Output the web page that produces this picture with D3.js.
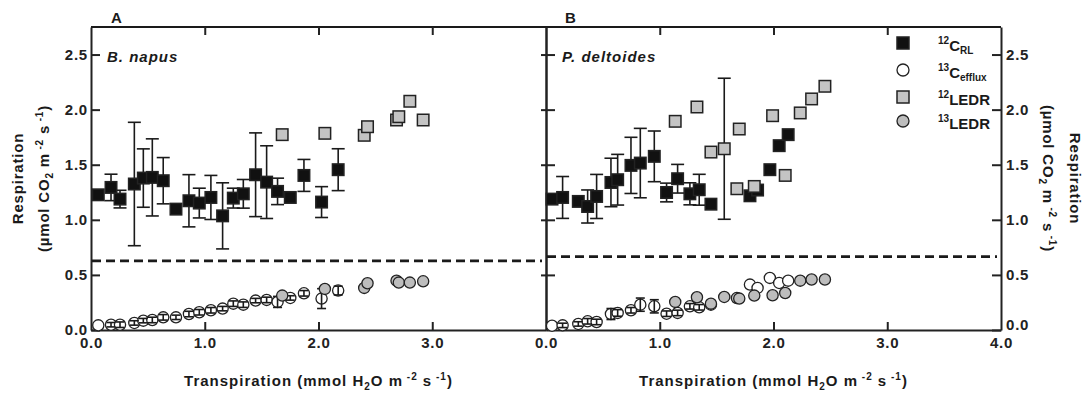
<!DOCTYPE html>
<html>
<head>
<meta charset="utf-8">
<script src="https://cdn.jsdelivr.net/npm/d3@7/dist/d3.min.js"></script>
<style>
  html, body { margin: 0; padding: 0; background: #fff; }
  svg { display: block; font-family: Arial, "Liberation Sans", Helvetica, sans-serif; }
  .tick text { font-size: 15px; font-weight: bold; fill: #222; letter-spacing: 0.8px; }
  .axis path, .axis line { stroke: #222; stroke-width: 2px; }
</style>
</head>
<body>
<svg id="chart" width="1089" height="398"></svg>
<script>
// ---- Panel A: B. napus ----
const napusX = [0.064, 0.176, 0.255, 0.381, 0.46, 0.539, 0.635, 0.747, 0.861, 0.952, 1.054,
                1.157, 1.251, 1.339, 1.447, 1.544, 1.64, 1.752, 1.872, 2.027, 2.173];
const napusRL = [1.227, 1.294, 1.188, 1.325, 1.379, 1.385, 1.355, 1.097, 1.173, 1.152, 1.203,
                 1.036, 1.197, 1.236, 1.409, 1.342, 1.258, 1.203, 1.403, 1.161, 1.455];
const napusRLErr = [0, 0.12, 0.08, 0.56, 0.265, 0.35, 0.21, 0, 0.237, 0.135, 0.2,
                    0.3, 0.09, 0.13, 0.38, 0.33, 0.12, 0, 0.145, 0.14, 0.19];
const napusEfflux = [0.042, 0.048, 0.048, 0.064, 0.085, 0.091, 0.115, 0.115, 0.145, 0.161, 0.179,
                     0.194, 0.239, 0.23, 0.267, 0.273, 0.255, 0.291, 0.333, 0.285, 0.358];
const napusEffluxErr = [0, 0.02, 0.025, 0.02, 0.02, 0.025, 0.025, 0.02, 0.025, 0.025, 0.025,
                        0.02, 0.025, 0.025, 0.02, 0.025, 0.05, 0.02, 0.025, 0.09, 0.04];
const napusLedrX = [1.681, 2.056, 2.402, 2.431, 2.686, 2.706, 2.803, 2.92];
const napusLedr12 = [1.773, 1.785, 1.767, 1.845, 1.906, 1.936, 2.076, 1.906];
const napusLedr13 = [0.312, 0.373, 0.382, 0.424, 0.448, 0.43, 0.43, 0.442];
const napusThreshold = 0.627;

// ---- Panel B: P. deltoides ----
const deltX = [0.053, 0.146, 0.284, 0.366, 0.445, 0.571, 0.63, 0.747, 0.829, 0.952, 1.06,
               1.157, 1.265, 1.347, 1.45, 1.793, 1.86, 1.968, 2.05, 2.129];
const deltRL = [1.188, 1.203, 1.167, 1.121, 1.212, 1.339, 1.364, 1.494, 1.515, 1.576, 1.248,
                1.373, 1.236, 1.273, 1.142, 1.218, 1.27, 1.455, 1.673, 1.773];
const deltRLErr = [0, 0.19, 0, 0.15, 0.2, 0.22, 0.23, 0.255, 0.315, 0.23, 0.085,
                   0.13, 0.1, 0.14, 0, 0, 0, 0, 0, 0];
const deltEfflux = [0.039, 0.042, 0.055, 0.079, 0.073, 0.145, 0.155, 0.179, 0.23, 0.215, 0.148,
                    0.155, 0.215, 0.206, 0.23, 0.412, 0.382, 0.473, 0.427, 0.448];
const deltEffluxErr = [0, 0.02, 0.02, 0.025, 0.025, 0.05, 0.03, 0.025, 0.06, 0.06, 0.025,
                       0.025, 0.025, 0.025, 0, 0, 0, 0, 0, 0];
const deltLedrX = [1.136, 1.327, 1.45, 1.567, 1.678, 1.699, 1.831, 1.992, 2.103, 2.235, 2.335, 2.452];
const deltLedr12 = [1.894, 2.024, 1.615, 1.645, 1.282, 1.824, 1.303, 1.945, 1.403, 1.97, 2.097, 2.212];
const deltLedr12Err = [0, 0, 0, 0.64, 0, 0, 0, 0, 0, 0, 0, 0];
const deltLedr13 = [0.255, 0.297, 0.239, 0.3, 0.29, 0.285, 0.312, 0.315, 0.336, 0.448, 0.458, 0.458];
const deltThreshold = 0.666;

// ---- Axes ----
const yTicks = [0, 0.5, 1.0, 1.5, 2.0, 2.5];
const xTicksA = [0, 1, 2, 3];
const xTicksB = [0, 1, 2, 3, 4];
const innerXTicks = [1, 2, 3];
const fmt = d3.format(".1f");

const svg = d3.select("#chart");
const plotTop = 27, plotBottom = 330;
const y = d3.scaleLinear().domain([0, 2.75]).range([plotBottom, plotTop]);

const ink = "#1a1a1a";
const sq = 11.5, rad = 5.6;

function drawPanel(opts) {
  const x = d3.scaleLinear().domain([0, 4]).range([opts.x0, opts.x1]);
  const g = svg.append("g");

  // frame
  g.append("line").attr("x1", opts.x0).attr("x2", opts.x1).attr("y1", plotTop).attr("y2", plotTop)
    .attr("stroke", ink).attr("stroke-width", 2);

  // bottom axis, ticks pointing inward
  g.append("g").attr("class", "axis").attr("transform", `translate(0,${plotBottom})`)
    .call(d3.axisBottom(x).tickValues(opts.xTicks).tickFormat(fmt)
      .tickSizeInner(-8).tickSizeOuter(0).tickPadding(7))
    .call(s => s.selectAll(".tick line").filter(d => d === 0 || d === 4).remove());
  // top axis ticks
  g.append("g").attr("class", "axis").attr("transform", `translate(0,${plotTop})`)
    .call(d3.axisTop(x).tickValues(innerXTicks).tickFormat("")
      .tickSizeInner(-8).tickSizeOuter(0))
    .call(s => s.select(".domain").remove());

  if (opts.leftLabels) {
    g.append("g").attr("class", "axis").attr("transform", `translate(${opts.x0},0)`)
      .call(d3.axisLeft(y).tickValues(yTicks).tickFormat(fmt)
        .tickSizeInner(-9).tickSizeOuter(0).tickPadding(3));
  } else {
    g.append("g").attr("class", "axis").attr("transform", `translate(${opts.x0},0)`)
      .call(d3.axisLeft(y).tickValues(yTicks.slice(1)).tickFormat("")
        .tickSizeInner(-9).tickSizeOuter(0));
    g.append("g").attr("class", "axis").attr("transform", `translate(${opts.x0},0)`)
      .call(d3.axisLeft(y).tickValues(yTicks.slice(1)).tickFormat("")
        .tickSizeInner(5).tickSizeOuter(0));
  }
  if (opts.rightLabels) {
    g.append("g").attr("class", "axis").attr("transform", `translate(${opts.x1},0)`)
      .call(d3.axisRight(y).tickValues(yTicks).tickFormat(fmt)
        .tickSizeInner(-9).tickSizeOuter(0).tickPadding(5))
      .call(s => s.selectAll(".tick text").filter(d => d === 0).attr("dy", "-0.05em"));
  }

  // dashed reference level
  g.append("line")
    .attr("x1", opts.x0 + 1).attr("x2", opts.x1 - 4)
    .attr("y1", y(opts.threshold)).attr("y2", y(opts.threshold))
    .attr("stroke", ink).attr("stroke-width", 2.8).attr("stroke-dasharray", "9,5");

  // error bars helper
  function errorBars(xs, vs, es, cap) {
    const d = xs.map((xv, i) => ({ x: xv, v: vs[i], e: es[i] })).filter(p => p.e > 0);
    const eg = g.append("g").attr("stroke", ink).attr("stroke-width", 1.6);
    eg.selectAll(".v").data(d).join("line")
      .attr("x1", p => x(p.x)).attr("x2", p => x(p.x))
      .attr("y1", p => y(p.v - p.e)).attr("y2", p => y(p.v + p.e));
    eg.selectAll(".t").data(d).join("line")
      .attr("x1", p => x(p.x) - cap / 2).attr("x2", p => x(p.x) + cap / 2)
      .attr("y1", p => y(p.v + p.e)).attr("y2", p => y(p.v + p.e));
    eg.selectAll(".b").data(d).join("line")
      .attr("x1", p => x(p.x) - cap / 2).attr("x2", p => x(p.x) + cap / 2)
      .attr("y1", p => y(p.v - p.e)).attr("y2", p => y(p.v - p.e));
  }
  function squares(xs, vs, fill) {
    g.append("g").selectAll("rect").data(xs.map((xv, i) => [xv, vs[i]])).join("rect")
      .attr("x", d => x(d[0]) - sq / 2).attr("y", d => y(d[1]) - sq / 2)
      .attr("width", sq).attr("height", sq)
      .attr("fill", fill).attr("stroke", "#222").attr("stroke-width", 1.5);
  }
  function circles(xs, vs, fill) {
    g.append("g").selectAll("circle").data(xs.map((xv, i) => [xv, vs[i]])).join("circle")
      .attr("cx", d => x(d[0])).attr("cy", d => y(d[1])).attr("r", rad)
      .attr("fill", fill).attr("stroke", "#222").attr("stroke-width", 1.3);
  }

  errorBars(opts.rlX, opts.rl, opts.rlErr, 13);
  if (opts.ledr12Err) errorBars(opts.ledrX, opts.ledr12, opts.ledr12Err, 13);
  squares(opts.rlX, opts.rl, "#111");
  squares(opts.ledrX, opts.ledr12, "#c4c4c4");
  circles(opts.rlX, opts.efflux, "#fff");
  errorBars(opts.rlX, opts.efflux, opts.effluxErr, 9);
  circles(opts.ledrX, opts.ledr13, "#bdbdbd");

  // panel letter and species
  svg.append("text").attr("x", opts.x0 + opts.letterDx).attr("y", 23)
    .attr("font-size", 15).attr("font-weight", "bold").attr("fill", ink).text(opts.letter);
  svg.append("text").attr("x", opts.x0 + 16).attr("y", 62)
    .attr("font-size", 15).attr("font-weight", "bold").attr("font-style", "italic")
    .attr("letter-spacing", 1).attr("fill", ink).text(opts.species);

  // x axis title
  const t = svg.append("text").attr("x", (opts.x0 + opts.x1) / 2).attr("y", 386)
    .attr("text-anchor", "middle").attr("font-size", 15).attr("font-weight", "bold")
    .attr("letter-spacing", 1).attr("fill", ink);
  t.append("tspan").text("Transpiration (mmol H");
  t.append("tspan").attr("font-size", 10).attr("dy", 4).text("2");
  t.append("tspan").attr("dy", -4).text("O m");
  t.append("tspan").attr("font-size", 10).attr("dy", -6).text(" -2");
  t.append("tspan").attr("dy", 6).text(" s");
  t.append("tspan").attr("font-size", 10).attr("dy", -6).text(" -1");
  t.append("tspan").attr("dy", 6).text(")");
}

drawPanel({
  x0: 91, x1: 546, xTicks: xTicksA, leftLabels: true, rightLabels: false,
  threshold: napusThreshold, letter: "A", letterDx: 20, species: "B. napus",
  rlX: napusX, rl: napusRL, rlErr: napusRLErr, efflux: napusEfflux, effluxErr: napusEffluxErr,
  ledrX: napusLedrX, ledr12: napusLedr12, ledr13: napusLedr13
});
drawPanel({
  x0: 546, x1: 1001, xTicks: xTicksB, leftLabels: false, rightLabels: true,
  threshold: deltThreshold, letter: "B", letterDx: 19, species: "P. deltoides",
  rlX: deltX, rl: deltRL, rlErr: deltRLErr, efflux: deltEfflux, effluxErr: deltEffluxErr,
  ledrX: deltLedrX, ledr12: deltLedr12, ledr12Err: deltLedr12Err, ledr13: deltLedr13
});

// y axis titles (both sides)
function yTitle(xBase1, xBase2, angle) {
  const cy = (plotTop + plotBottom) / 2;
  svg.append("text").attr("transform", `translate(${xBase1},${cy}) rotate(${angle})`)
    .attr("text-anchor", "middle").attr("font-size", 15).attr("font-weight", "bold")
    .attr("letter-spacing", 0.8).attr("fill", ink).text("Respiration");
  const t = svg.append("text").attr("transform", `translate(${xBase2},${cy}) rotate(${angle})`)
    .attr("text-anchor", "middle").attr("font-size", 15).attr("font-weight", "bold")
    .attr("letter-spacing", 0.8).attr("fill", ink);
  t.append("tspan").text("(µmol CO");
  t.append("tspan").attr("font-size", 10).attr("dy", 4).text("2");
  t.append("tspan").attr("dy", -4).text(" m");
  t.append("tspan").attr("font-size", 10).attr("dy", -6).text(" -2");
  t.append("tspan").attr("dy", 6).text(" s");
  t.append("tspan").attr("font-size", 10).attr("dy", -6).text(" -1");
  t.append("tspan").attr("dy", 6).text(")");
}
yTitle(23, 49, -90);
yTitle(1070, 1043, 90);

// legend
const legendItems = [
  { sup: "12", main: "C", sub: "RL", shape: "square", fill: "#111" },
  { sup: "13", main: "C", sub: "efflux", shape: "circle", fill: "#fff" },
  { sup: "12", main: "LEDR", sub: "", shape: "square", fill: "#c4c4c4" },
  { sup: "13", main: "LEDR", sub: "", shape: "circle", fill: "#bdbdbd" }
];
const legendY = [43, 70, 97, 121];
const lg = svg.append("g");
legendItems.forEach((it, i) => {
  const cy = legendY[i];
  if (it.shape === "square") {
    lg.append("rect").attr("x", 903 - 6).attr("y", cy - 6).attr("width", 12).attr("height", 12)
      .attr("fill", it.fill).attr("stroke", "#222").attr("stroke-width", 1.5);
  } else {
    lg.append("circle").attr("cx", 903).attr("cy", cy).attr("r", 6)
      .attr("fill", it.fill).attr("stroke", "#222").attr("stroke-width", 1.3);
  }
  const t = lg.append("text").attr("x", 938).attr("y", cy + 8)
    .attr("font-size", 15).attr("font-weight", "bold").attr("fill", ink);
  t.append("tspan").attr("font-size", 10).attr("dy", -7).text(it.sup);
  t.append("tspan").attr("dy", 7).text(it.main);
  if (it.sub) t.append("tspan").attr("font-size", 10).attr("dy", 3).text(it.sub);
});
</script>
</body>
</html>
